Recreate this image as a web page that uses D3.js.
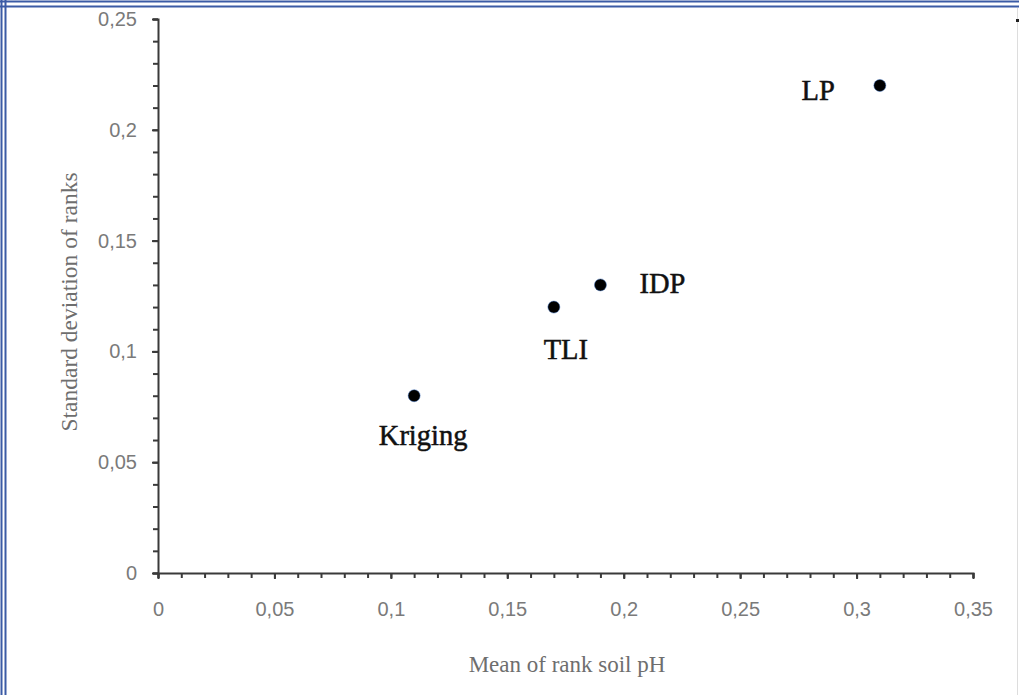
<!DOCTYPE html>
<html><head><meta charset="utf-8">
<script src="https://cdn.jsdelivr.net/npm/d3@7"></script>
<style>html,body{margin:0;padding:0;background:#fff;overflow:hidden}</style>
</head><body>
<svg id="c" width="1019" height="695"></svg>
<script>
const methods = ["Kriging", "TLI", "IDP", "LP"];
const meanRank = [0.11, 0.17, 0.19, 0.31];
const sdRank = [0.08, 0.12, 0.13, 0.22];
const xTicks = [0, 0.05, 0.1, 0.15, 0.2, 0.25, 0.3, 0.35];
const yTicks = [0, 0.05, 0.1, 0.15, 0.2, 0.25];
const xTitle = "Mean of rank soil pH";
const yTitle = "Standard deviation of ranks";

const svg = d3.select("#c");
const fmt = d => String(d).replace(".", ",");

// frame
const blue = "#3b5ba5";
svg.append("rect").attr("x",0).attr("y",0).attr("width",1019).attr("height",695).attr("fill","#fff");
[[0,1.5,1019,1.5],[0,6.5,1019,6.5]].forEach(l=>svg.append("line").attr("x1",l[0]).attr("y1",l[1]).attr("x2",l[2]).attr("y2",l[3]).attr("stroke",blue).attr("stroke-width",2));
[[1.5,0,1.5,695],[5.5,0,5.5,695]].forEach(l=>svg.append("line").attr("x1",l[0]).attr("y1",l[1]).attr("x2",l[2]).attr("y2",l[3]).attr("stroke",blue).attr("stroke-width",2));
svg.append("line").attr("x1",1017.5).attr("y1",8).attr("x2",1017.5).attr("y2",695).attr("stroke","#ddd");

const x = d3.scaleLinear().domain([0,0.35]).range([158,973]);
const y = d3.scaleLinear().domain([0,0.25]).range([573,19]);

const minorX = d3.range(0, 0.3501, 0.01);
const minorY = d3.range(0, 0.2501, 0.01);
const axisCol = "#3a3a3a";
const tickFont = "'Liberation Sans', Arial, sans-serif";

const gx = svg.append("g").attr("transform","translate(0,573)");
gx.call(d3.axisBottom(x).tickValues(minorX).tickSize(5).tickFormat(""));
gx.select(".domain").attr("stroke",axisCol).attr("stroke-width",2);
gx.selectAll(".tick line").attr("stroke",axisCol).attr("stroke-width",2);
const gxl = svg.append("g").attr("transform","translate(0,573)");
gxl.call(d3.axisBottom(x).tickValues(xTicks).tickSize(6).tickPadding(23).tickFormat(fmt));
gxl.select(".domain").remove();
gxl.selectAll(".tick line").attr("stroke",axisCol).attr("stroke-width",2);
gxl.selectAll("text").attr("fill","#7a7a7a").style("font-family",tickFont).style("font-size","20px");

const gy = svg.append("g").attr("transform","translate(158,0)");
gy.call(d3.axisLeft(y).tickValues(minorY).tickSize(5).tickFormat(""));
gy.select(".domain").attr("stroke",axisCol).attr("stroke-width",2);
gy.selectAll(".tick line").attr("stroke",axisCol).attr("stroke-width",2);
const gyl = svg.append("g").attr("transform","translate(158,0)");
gyl.call(d3.axisLeft(y).tickValues(yTicks).tickSize(6).tickPadding(15).tickFormat(fmt));
gyl.select(".domain").remove();
gyl.selectAll(".tick line").attr("stroke",axisCol).attr("stroke-width",2);
gyl.selectAll("text").attr("fill","#7a7a7a").style("font-family",tickFont).style("font-size","20px");

// titles
svg.append("text").attr("x",567).attr("y",672).attr("text-anchor","middle")
  .attr("fill","#6e6e6e").style("font-family","'Liberation Serif', serif").style("font-size","23px").text(xTitle);
svg.append("text").attr("transform","translate(77,302) rotate(-90)").attr("text-anchor","middle")
  .attr("fill","#6e6e6e").style("font-family","'Liberation Serif', serif").style("font-size","23.5px").text(yTitle);

// points
const data = methods.map((m,i)=>({m, x:meanRank[i], y:sdRank[i]}));
svg.selectAll("circle.pt").data(data).enter().append("circle")
  .attr("cx",d=>x(d.x)).attr("cy",d=>y(d.y)).attr("r",6)
  .attr("fill","#000").attr("stroke","#3b6fc0").attr("stroke-width",0.8).attr("stroke-opacity",0.6);

// labels (offsets relative to point)
const labOff = {Kriging:[9,49,"middle"], TLI:[12,52,"middle"], IDP:[39,8,"start"], LP:[-45,15,"end"]};
svg.selectAll("text.lab").data(data).enter().append("text")
  .attr("x",d=>x(d.x)+labOff[d.m][0]).attr("y",d=>y(d.y)+labOff[d.m][1])
  .attr("text-anchor",d=>labOff[d.m][2])
  .attr("fill","#111").attr("stroke","#111").attr("stroke-width",0.5)
  .style("font-family","'Liberation Serif', serif").style("font-size","28.5px")
  .text(d=>d.m);

// stray mark top right
svg.append("rect").attr("x",1016).attr("y",19).attr("width",3).attr("height",3).attr("fill","#222");
</script>
</body></html>
